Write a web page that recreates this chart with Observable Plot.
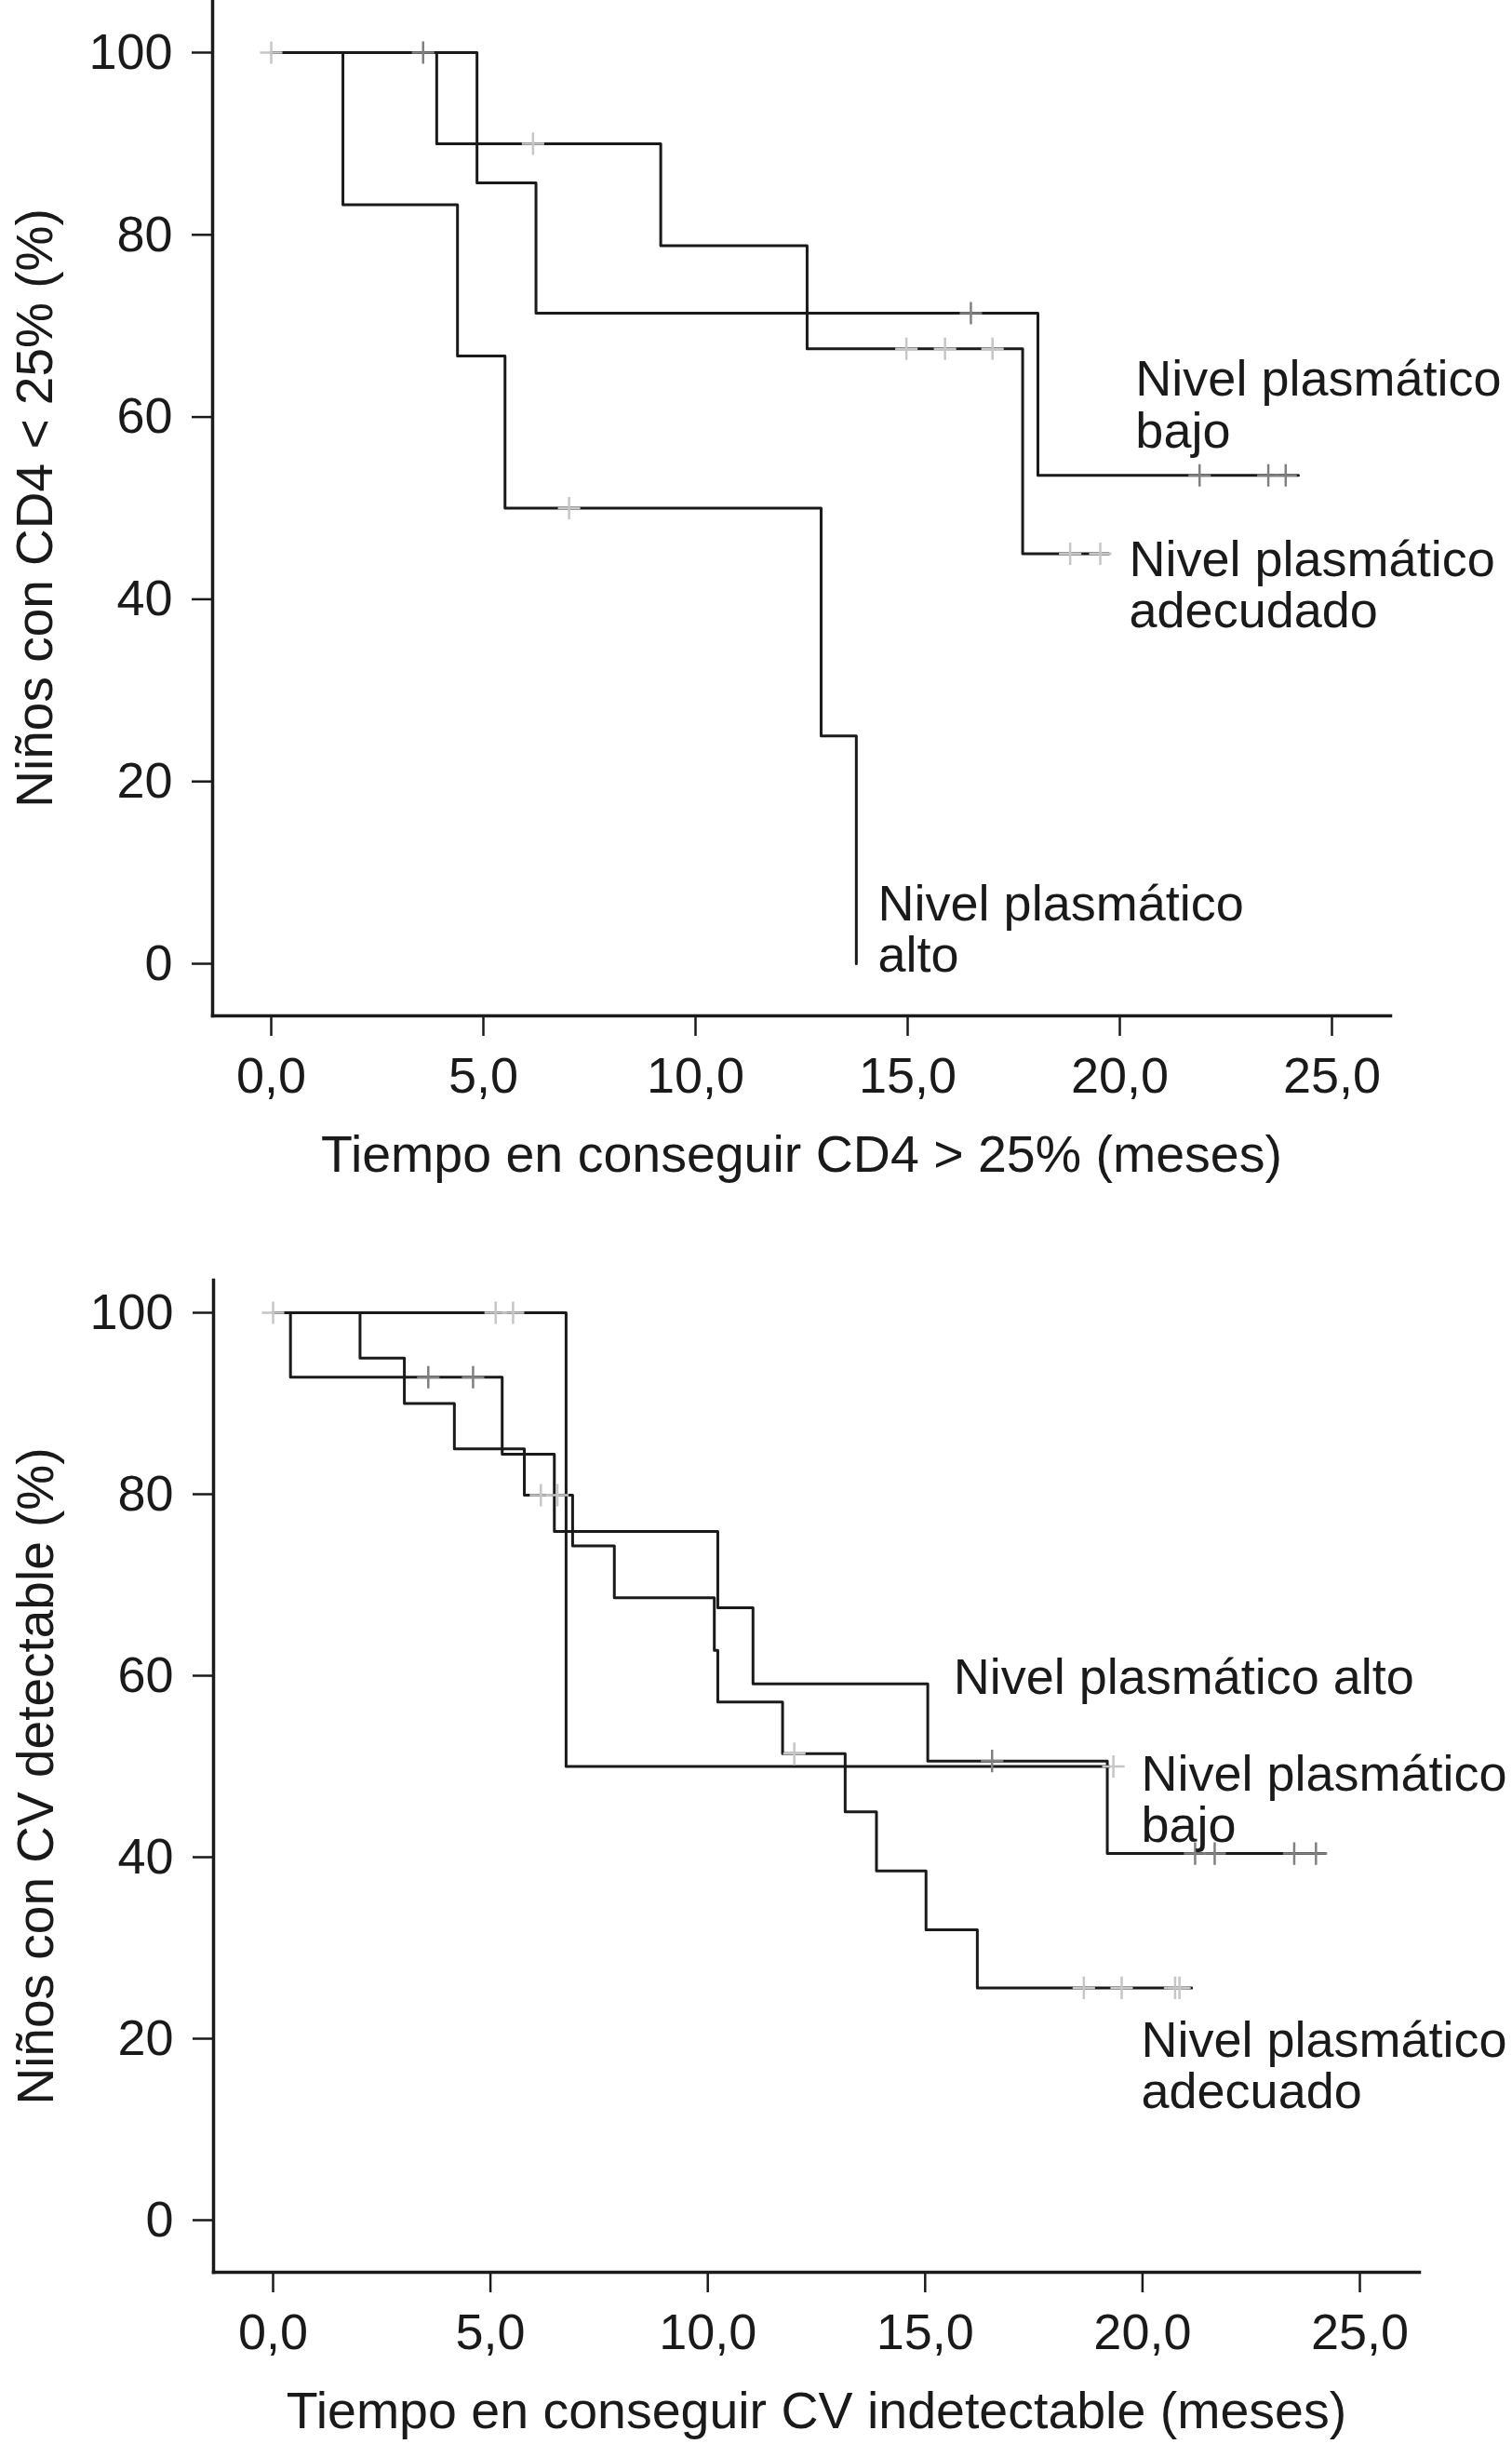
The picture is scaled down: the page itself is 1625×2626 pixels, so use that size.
<!DOCTYPE html>
<html>
<head>
<meta charset="utf-8">
<script src="https://cdn.jsdelivr.net/npm/d3@7"></script>
<script src="https://cdn.jsdelivr.net/npm/@observablehq/plot@0.6"></script>
<style>
  body { margin: 0; background: white; }
  #chart svg { display: block; }
</style>
</head>
<body>
<div id="chart"></div>
<script>
// --- Panel 1: tiempo hasta CD4 > 25% ---
const cd4AltoT = [0, 1.69, 4.39, 5.51, 12.96, 13.79]
const cd4AltoS = [100, 83.3, 66.7, 50, 25, 0]
const cd4AltoCensT = [7.02]
const cd4AltoCensS = [50]

const cd4AdecT = [0, 3.9, 9.18, 12.63, 17.71, 19.74]
const cd4AdecS = [100, 90, 78.8, 67.5, 45, 45]
const cd4AdecCensT = [0, 6.17, 14.97, 15.88, 17.0, 18.83, 19.54]
const cd4AdecCensS = [100, 90, 67.5, 67.5, 67.5, 45, 45]

const cd4BajoT = [0, 4.85, 6.24, 18.07, 24.21]
const cd4BajoS = [100, 85.7, 71.4, 53.6, 53.6]
const cd4BajoCensT = [3.58, 16.49, 21.88, 23.5, 23.91]
const cd4BajoCensS = [100, 71.4, 53.6, 53.6, 53.6]

// --- Panel 2: tiempo hasta CV indetectable ---
const cvAltoT = [0, 6.74, 19.23]
const cvAltoS = [100, 50, 50]
const cvAltoCensT = [5.12, 5.52, 19.33]
const cvAltoCensS = [100, 100, 50]

const cvAdecT = [0, 2.0, 3.02, 4.17, 5.78, 6.89, 7.85, 10.15, 10.23, 11.72, 13.16, 13.88, 15.02, 16.2, 21.13]
const cvAdecS = [100, 95.0, 90.0, 85.0, 79.9, 74.3, 68.6, 62.8, 57.1, 51.4, 45.0, 38.5, 32.0, 25.6, 25.6]
const cvAdecCensT = [0, 6.16, 6.54, 11.99, 18.65, 19.52, 20.75, 20.85]
const cvAdecCensS = [100, 79.9, 79.9, 51.4, 25.6, 25.6, 25.6, 25.6]

const cvBajoT = [0, 0.4, 5.27, 6.47, 10.23, 11.04, 15.06, 19.19, 24.2]
const cvBajoS = [100, 92.9, 84.4, 75.9, 67.5, 59.1, 50.6, 40.4, 40.4]
const cvBajoCensT = [3.57, 4.6, 16.54, 21.21, 21.66, 23.49, 23.99]
const cvBajoCensS = [92.9, 92.9, 50.6, 40.4, 40.4, 40.4, 40.4]

const xTicks = [0, 5, 10, 15, 20, 25]
const yTicks = [0, 20, 40, 60, 80, 100]

// etiquetas de las curvas (en unidades de los ejes)
const cd4Labels = [
  {text: 'Nivel plasmático\nbajo', t: 20.37, s: 66.4},
  {text: 'Nivel plasmático\nadecudado', t: 20.22, s: 46.6},
  {text: 'Nivel plasmático\nalto', t: 14.3, s: 8.8}
]
const cvLabels = [
  {text: 'Nivel plasmático alto', t: 15.65, s: 62.1},
  {text: 'Nivel plasmático\nbajo', t: 19.97, s: 51.4},
  {text: 'Nivel plasmático\nadecuado', t: 19.97, s: 22.1}
]

const rows = (group, ts, ss) => ts.map((t, i) => ({group, t, s: ss[i]}))
const fmtTick = d => d3.format('.1f')(d).replace('.', ',')

const LIGHT = '#c6c6c6'
const DARK = '#808080'

function panel(cfg) {
  const curves = [
    ...rows('alto', cfg.alto[0], cfg.alto[1]),
    ...rows('adecuado', cfg.adec[0], cfg.adec[1]),
    ...rows('bajo', cfg.bajo[0], cfg.bajo[1])
  ]
  const censLight = [
    ...rows('alto', cfg.altoCens[0], cfg.altoCens[1]),
    ...rows('adecuado', cfg.adecCens[0], cfg.adecCens[1])
  ]
  const censDark = rows('bajo', cfg.bajoCens[0], cfg.bajoCens[1])

  return Plot.plot({
    width: 1625,
    height: cfg.height,
    marginLeft: cfg.marginLeft,
    marginRight: cfg.marginRight,
    marginTop: cfg.marginTop,
    marginBottom: cfg.marginBottom,
    x: {domain: [0, 25], insetLeft: cfg.insetLeft, insetRight: cfg.insetRight},
    y: {domain: [0, 100], insetTop: cfg.insetTop, insetBottom: 56},
    style: {
      fontFamily: '"Liberation Sans", Arial, Helvetica, sans-serif',
      fontSize: '54px',
      color: '#1a1a1a',
      background: 'white'
    },
    marks: [
      Plot.frame({anchor: 'left', strokeWidth: 3.5}),
      Plot.frame({anchor: 'bottom', strokeWidth: 3.5}),
      Plot.axisX({
        ticks: xTicks, tickFormat: fmtTick, tickSize: 22, tickPadding: 22, strokeWidth: 2.5,
        label: null
      }),
      Plot.axisX({
        ticks: [], fontSize: 55.5,
        label: cfg.xLabel, labelAnchor: 'center', labelOffset: 167, labelArrow: false
      }),
      Plot.axisY({
        ticks: yTicks, tickSize: 22, tickPadding: 21, strokeWidth: 2.5,
        label: null
      }),
      Plot.axisY({
        ticks: [], fontSize: 55,
        label: cfg.yLabel, labelAnchor: 'center', labelOffset: 212, labelArrow: false
      }),
      Plot.line(curves, {
        x: 't', y: 's', z: 'group', curve: 'step-after',
        stroke: '#1a1a1a', strokeWidth: 3
      }),
      Plot.dot(censLight, {x: 't', y: 's', symbol: 'plus', r: 7.8, stroke: LIGHT, strokeWidth: 2.5}),
      Plot.dot(censDark, {x: 't', y: 's', symbol: 'plus', r: 7.8, stroke: DARK, strokeWidth: 2.5}),
      Plot.text(cfg.labels, {
        x: 't', y: 's', text: 'text', textAnchor: 'start', lineAnchor: 'top',
        lineHeight: 1.03, fontSize: 54, fill: '#1a1a1a'
      })
    ]
  })
}

const chartCD4 = panel({
  height: 1300, marginLeft: 228, marginRight: 131, marginTop: 0, marginBottom: 209,
  insetLeft: 63, insetRight: 63, insetTop: 56,
  alto: [cd4AltoT, cd4AltoS], altoCens: [cd4AltoCensT, cd4AltoCensS],
  adec: [cd4AdecT, cd4AdecS], adecCens: [cd4AdecCensT, cd4AdecCensS],
  bajo: [cd4BajoT, cd4BajoS], bajoCens: [cd4BajoCensT, cd4BajoCensS],
  labels: cd4Labels,
  xLabel: 'Tiempo en conseguir CD4 > 25% (meses)',
  yLabel: 'Niños con CD4 < 25% (%)'
})

const chartCV = panel({
  height: 1326, marginLeft: 229, marginRight: 100, marginTop: 75, marginBottom: 185,
  insetLeft: 64, insetRight: 64, insetTop: 35,
  alto: [cvAltoT, cvAltoS], altoCens: [cvAltoCensT, cvAltoCensS],
  adec: [cvAdecT, cvAdecS], adecCens: [cvAdecCensT, cvAdecCensS],
  bajo: [cvBajoT, cvBajoS], bajoCens: [cvBajoCensT, cvBajoCensS],
  labels: cvLabels,
  xLabel: 'Tiempo en conseguir CV indetectable (meses)',
  yLabel: 'Niños con CV detectable (%)'
})

d3.select('#chart').append(() => chartCD4)
d3.select('#chart').append(() => chartCV)
</script>
</body>
</html>
